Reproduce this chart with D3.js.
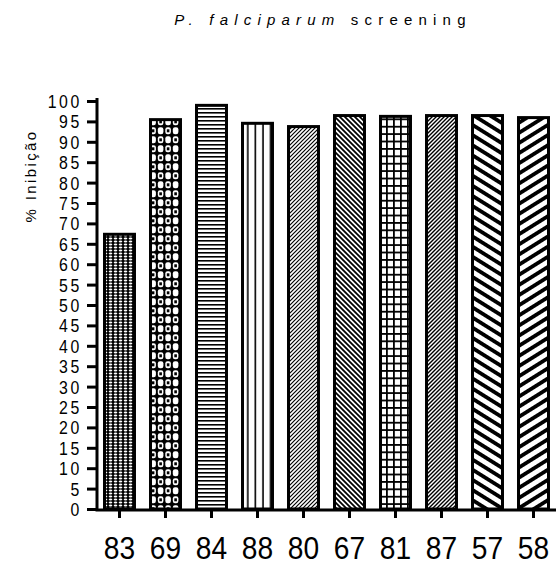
<!DOCTYPE html>
<html>
<head>
<meta charset="utf-8">
<script src="https://cdn.jsdelivr.net/npm/d3@7"></script>
<style>
  html, body { margin: 0; padding: 0; background: #fff; }
  svg { display: block; }
  text { font-family: "Liberation Sans", Arial, sans-serif; fill: #000; }
</style>
</head>
<body>
<svg id="chart" width="556" height="566"></svg>
<script>
// Compound codes on the x axis, % inhibition per compound
const categories = ["83", "69", "84", "88", "80", "67", "81", "87", "57", "58"];
const inhibition = [67.7, 95.8, 99.3, 94.9, 94.1, 96.8, 96.6, 96.8, 96.8, 96.3];
const yTickValues = [0, 5, 10, 15, 20, 25, 30, 35, 40, 45, 50, 55, 60, 65, 70, 75, 80, 85, 90, 95, 100];
const fillKinds = ["stipple", "lattice", "hlines", "vlines", "fineUp", "fineDown", "grid", "fineUp2", "wideDown", "wideUp"];

const svg = d3.select("#chart");
const defs = svg.append("defs");

const x = d3.scaleBand()
  .domain(categories)
  .range([96.5, 556.5])
  .paddingInner(0.283)
  .paddingOuter(0.1415);

const y = d3.scaleLinear().domain([0, 100]).range([509, 101]);

// Fill patterns, one per bar, anchored at the bar's left edge
function makePattern(kind, id, x0) {
  let p;
  const base = (w, h) => defs.append("pattern")
    .attr("id", id).attr("patternUnits", "userSpaceOnUse")
    .attr("x", x0).attr("y", 0).attr("width", w).attr("height", h);
  switch (kind) {
    case "stipple":
      p = base(5, 3);
      p.append("rect").attr("width", 5).attr("height", 3).attr("fill", "#000");
      p.append("ellipse").attr("cx", 2.5).attr("cy", 1.5).attr("rx", 1.8).attr("ry", 1).attr("fill", "#fff");
      break;
    case "lattice":
      p = base(15, 18);
      p.append("rect").attr("width", 15).attr("height", 18).attr("fill", "#000");
      [[0, 0], [7.5, 0], [0, 9], [7.5, 9]].forEach(([cx, cy]) => {
        p.append("rect").attr("x", cx + 1.3).attr("y", cy + 1.3).attr("width", 5.6).attr("height", 7)
          .attr("rx", 2.2).attr("fill", "#fff");
      });
      p.append("rect").attr("x", 2.8).attr("y", 3.3).attr("width", 2.6).attr("height", 3).attr("fill", "#000");
      p.append("rect").attr("x", 10.3).attr("y", 12.3).attr("width", 2.6).attr("height", 3).attr("fill", "#000");
      break;
    case "hlines":
      p = base(10, 4);
      p.append("rect").attr("width", 10).attr("height", 1.6).attr("fill", "#000");
      break;
    case "vlines":
      p = base(7.6, 10);
      p.append("rect").attr("x", 6).attr("width", 1.8).attr("height", 10).attr("fill", "#000");
      break;
    case "fineUp":
    case "fineUp2":
      p = base(4, 4);
      p.append("path").attr("d", "M-1,1 L1,-1 M0,4 L4,0 M3,5 L5,3")
        .attr("stroke", "#000").attr("stroke-width", kind === "fineUp" ? 1.2 : 1.4);
      break;
    case "fineDown":
      p = base(5, 5);
      p.append("path").attr("d", "M-1,4 L1,6 M0,0 L5,5 M4,-1 L6,1")
        .attr("stroke", "#000").attr("stroke-width", 1.8);
      break;
    case "grid":
      p = base(7, 7.4);
      p.append("rect").attr("width", 7).attr("height", 7.4).attr("fill", "#000");
      p.append("rect").attr("x", 1.8).attr("y", 1.8).attr("width", 5.2).attr("height", 5.6).attr("fill", "#fff");
      break;
    case "wideDown":
    case "wideUp":
      p = base(40, 8.6)
        .attr("patternTransform", `rotate(${kind === "wideDown" ? 32 : -32} ${x0} 0)`);
      p.append("rect").attr("width", 40).attr("height", 8.6).attr("fill", "#fff");
      p.append("rect").attr("width", 40).attr("height", 3.8).attr("fill", "#000");
      break;
  }
}

categories.forEach((c, i) => makePattern(fillKinds[i], "fill-" + i, x(c)));

// Bars
const sw = 3;
svg.append("g").selectAll("rect")
  .data(categories)
  .join("rect")
  .attr("x", d => x(d) + sw / 2)
  .attr("y", (d, i) => y(inhibition[i]) + sw / 2)
  .attr("width", x.bandwidth() - sw)
  .attr("height", (d, i) => y(0) - y(inhibition[i]) - sw / 2)
  .attr("fill", (d, i) => `url(#fill-${i})`)
  .attr("stroke", "#000")
  .attr("stroke-width", sw);

// Y axis
const yScaleX = 0.88;
const yAxis = svg.append("g")
  .attr("transform", "translate(97,0)")
  .call(d3.axisLeft(y).tickValues(yTickValues).tickSize(10).tickSizeOuter(0).tickPadding(0));
yAxis.select(".domain").remove();
yAxis.selectAll(".tick line").attr("stroke", "#000").attr("stroke-width", 3);
yAxis.selectAll(".tick text")
  .attr("font-size", 18)
  .attr("letter-spacing", "3px")
  .attr("x", -15 / yScaleX)
  .attr("dy", "0.36em")
  .attr("transform", `scale(${yScaleX},1)`)
  .attr("font-family", "'Liberation Sans', Arial, sans-serif");
svg.append("line")
  .attr("x1", 97).attr("x2", 97)
  .attr("y1", 98).attr("y2", 511)
  .attr("stroke", "#000").attr("stroke-width", 3);

// X axis
const xAxis = svg.append("g")
  .attr("transform", "translate(0,510)")
  .call(d3.axisBottom(x).tickSize(8).tickSizeOuter(0).tickPadding(18));
xAxis.select(".domain").remove();
xAxis.selectAll(".tick line").attr("stroke", "#000").attr("stroke-width", 3);
xAxis.selectAll(".tick text")
  .attr("font-size", 32)
  .attr("transform", "scale(0.88,1)")
  .attr("font-family", "'Liberation Sans', Arial, sans-serif");
svg.append("line")
  .attr("x1", 95.5).attr("x2", 556)
  .attr("y1", 510).attr("y2", 510)
  .attr("stroke", "#000").attr("stroke-width", 3);

// Title
const title = svg.append("text")
  .attr("x", 323).attr("y", 25)
  .attr("text-anchor", "middle")
  .attr("font-size", 15)
  .attr("letter-spacing", "6.2px");
title.append("tspan").attr("font-style", "italic").text("P. falciparum");
title.append("tspan").text(" screening");

// Y axis title
svg.append("text")
  .attr("transform", "translate(36,176) rotate(-90)")
  .attr("text-anchor", "middle")
  .attr("font-size", 15)
  .attr("letter-spacing", "2.4px")
  .text("% Inibição");
</script>
</body>
</html>
